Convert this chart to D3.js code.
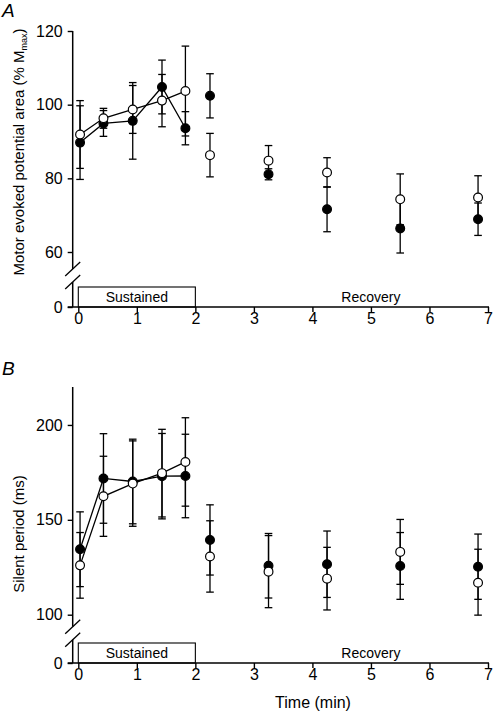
<!DOCTYPE html>
<html><head><meta charset="utf-8">
<script src="https://cdn.jsdelivr.net/npm/d3@7"></script>
<style>
body{margin:0;background:#fff}
text{font-family:Arial,"Liberation Sans",Helvetica,sans-serif;fill:#000}
</style>
</head><body>
<svg id="c" width="493" height="714"></svg>
<script>
// ---- data ----
const times = [0.03, 0.43, 0.93, 1.43, 1.83, 2.25, 3.25, 4.25, 5.5, 6.83];
const xTicks = [0, 1, 2, 3, 4, 5, 6, 7];

const mepFilled    = [89.7, 94.9, 95.6, 104.8, 93.6, 102.4, 81.1, 71.6, 66.4, 68.9];
const mepFilledErr = [10.0, 3.5, 10.4, 7.3, 4.5, 6.0, 1.5, 6.1, 7.5, 4.4];
const mepOpen      = [91.9, 96.3, 98.7, 101.1, 103.7, 86.3, 84.8, 81.6, 74.3, 74.8];
const mepOpenErr   = [9.2, 2.7, 6.5, 7.1, 12.2, 5.9, 4.1, 4.0, 6.9, 5.9];
const mepTicks = [0, 60, 80, 100, 120];

const spFilled    = [134.5, 171.8, 170.2, 173.0, 173.1, 139.4, 125.8, 126.6, 125.7, 125.3];
const spFilledErr = [19.7, 23.6, 22.3, 22.5, 22.0, 18.5, 17.0, 17.5, 17.6, 17.2];
const spOpen      = [126.0, 162.4, 169.1, 174.6, 180.5, 130.7, 122.7, 119.0, 133.1, 116.8];
const spOpenErr   = [17.3, 21.1, 22.5, 23.1, 23.3, 18.8, 19.0, 16.5, 17.1, 17.7];
const spTicks = [0, 100, 150, 200];

const phaseNames = ["Sustained", "Recovery"];
const sustainedSpan = [0, 2];
const recoveryCenter = 5;
const nLinked = 5; // points joined by lines (sustained phase)

// ---- drawing ----
const svg = d3.select("#c");
const x = d3.scaleLinear().domain([0, 7]).range([78.3, 488]);
const axisX = 72.7;
const font = 'Arial,"Liberation Sans",Helvetica,sans-serif';

function panel(cfg) {
  const y = cfg.y;
  const g = svg.append("g");
  const y0 = y(0);

  // y axis ticks + labels
  const ya = g.append("g").attr("transform", `translate(${axisX},0)`)
    .call(d3.axisLeft(y).tickValues(cfg.ticks).tickSize(5).tickPadding(5).tickFormat(d3.format("d")));
  ya.select(".domain").remove();
  ya.selectAll("line").attr("stroke", "#000").attr("stroke-width", 1.4);
  ya.selectAll("text").style("font-size", "16px").style("font-family", font).attr("fill", "#000");

  // broken y-axis line
  const upEnd = y(cfg.lowVal) + cfg.brk[0];
  const lowStart = y(cfg.lowVal) + cfg.brk[1];
  g.append("line").attr("x1", axisX).attr("x2", axisX).attr("y1", y(cfg.topVal)).attr("y2", upEnd)
    .attr("stroke", "#000").attr("stroke-width", 1.5);
  g.append("line").attr("x1", axisX).attr("x2", axisX).attr("y1", lowStart).attr("y2", y0)
    .attr("stroke", "#000").attr("stroke-width", 1.5);
  [upEnd, lowStart].forEach(yy => {
    g.append("line").attr("x1", axisX - 7.5).attr("x2", axisX + 7.5)
      .attr("y1", yy + 7).attr("y2", yy - 7).attr("stroke", "#000").attr("stroke-width", 1.3);
  });

  // x axis
  const xa = g.append("g").attr("transform", `translate(0,${y0})`)
    .call(d3.axisBottom(x).tickValues(xTicks).tickSize(5).tickPadding(1).tickFormat(d3.format("d")));
  xa.select(".domain").remove();
  xa.selectAll("line").attr("stroke", "#000").attr("stroke-width", 1.4);
  xa.selectAll("text").style("font-size", "16px").style("font-family", font).attr("fill", "#000");
  g.append("line").attr("x1", axisX - 5).attr("x2", x(7) + 1).attr("y1", y0).attr("y2", y0)
    .attr("stroke", "#000").attr("stroke-width", 1.5);

  // phase box and labels
  g.append("rect").attr("x", x(sustainedSpan[0])).attr("y", y0 - 20)
    .attr("width", x(sustainedSpan[1]) - x(sustainedSpan[0])).attr("height", 20)
    .attr("fill", "none").attr("stroke", "#000").attr("stroke-width", 1.1);
  g.append("text").attr("x", x((sustainedSpan[0] + sustainedSpan[1]) / 2)).attr("y", y0 - 5)
    .attr("text-anchor", "middle").style("font-size", "14px").text(phaseNames[0]);
  g.append("text").attr("x", x(recoveryCenter)).attr("y", y0 - 5)
    .attr("text-anchor", "middle").style("font-size", "14px").text(phaseNames[1]);

  // connecting lines
  const line = d3.line().x((d, i) => x(times[i])).y(d => y(d));
  [cfg.filled, cfg.open].forEach(s => {
    g.append("path").datum(s.slice(0, nLinked)).attr("d", line)
      .attr("fill", "none").attr("stroke", "#000").attr("stroke-width", 1.3);
  });

  // error bars
  const cap = 3.8;
  [[cfg.filled, cfg.filledErr], [cfg.open, cfg.openErr]].forEach(([v, e]) => {
    const eb = g.append("g").attr("stroke", "#000").attr("stroke-width", 1.3);
    v.forEach((d, i) => {
      const cx = x(times[i]);
      const lo = y(d - e[i]), hi = y(d + e[i]);
      eb.append("line").attr("x1", cx).attr("x2", cx).attr("y1", lo).attr("y2", hi);
      eb.append("line").attr("x1", cx - cap).attr("x2", cx + cap).attr("y1", lo).attr("y2", lo);
      eb.append("line").attr("x1", cx - cap).attr("x2", cx + cap).attr("y1", hi).attr("y2", hi);
    });
  });

  // markers
  g.append("g").selectAll("circle").data(cfg.filled).join("circle")
    .attr("cx", (d, i) => x(times[i])).attr("cy", d => y(d)).attr("r", 4.4)
    .attr("fill", "#000").attr("stroke", "#000").attr("stroke-width", 1.2);
  g.append("g").selectAll("circle").data(cfg.open).join("circle")
    .attr("cx", (d, i) => x(times[i])).attr("cy", d => y(d)).attr("r", 4.4)
    .attr("fill", "#fff").attr("stroke", "#000").attr("stroke-width", 1.2);

  // panel letter
  g.append("text").attr("x", 2).attr("y", cfg.letterY).style("font-size", "19px")
    .style("font-style", "italic").text(cfg.letter);

  // y label
  const yl = g.append("text").attr("transform", `translate(24,${cfg.labelY}) rotate(-90)`)
    .attr("text-anchor", "middle").style("font-size", "15px");
  cfg.label(yl);
}

panel({
  y: d3.scaleLinear().domain([0, 60, 120]).range([307, 252, 31]),
  ticks: mepTicks, topVal: 120, lowVal: 60, brk: [17, 30],
  filled: mepFilled, filledErr: mepFilledErr, open: mepOpen, openErr: mepOpenErr,
  letter: "A", letterY: 17, labelY: 152,
  label: t => {
    t.append("tspan").text("Motor evoked potential area (% M");
    t.append("tspan").attr("dy", 3).style("font-size", "9px").text("max");
    t.append("tspan").attr("dy", -3).text(")");
  }
});

panel({
  y: d3.scaleLinear().domain([0, 100, 220]).range([663, 614.7, 387]),
  ticks: spTicks, topVal: 220, lowVal: 100, brk: [12, 25],
  filled: spFilled, filledErr: spFilledErr, open: spOpen, openErr: spOpenErr,
  letter: "B", letterY: 375, labelY: 534,
  label: t => t.text("Silent period (ms)")
});

svg.append("text").attr("x", 313).attr("y", 708).attr("text-anchor", "middle")
  .style("font-size", "16px").text("Time (min)");
</script>
</body></html>
